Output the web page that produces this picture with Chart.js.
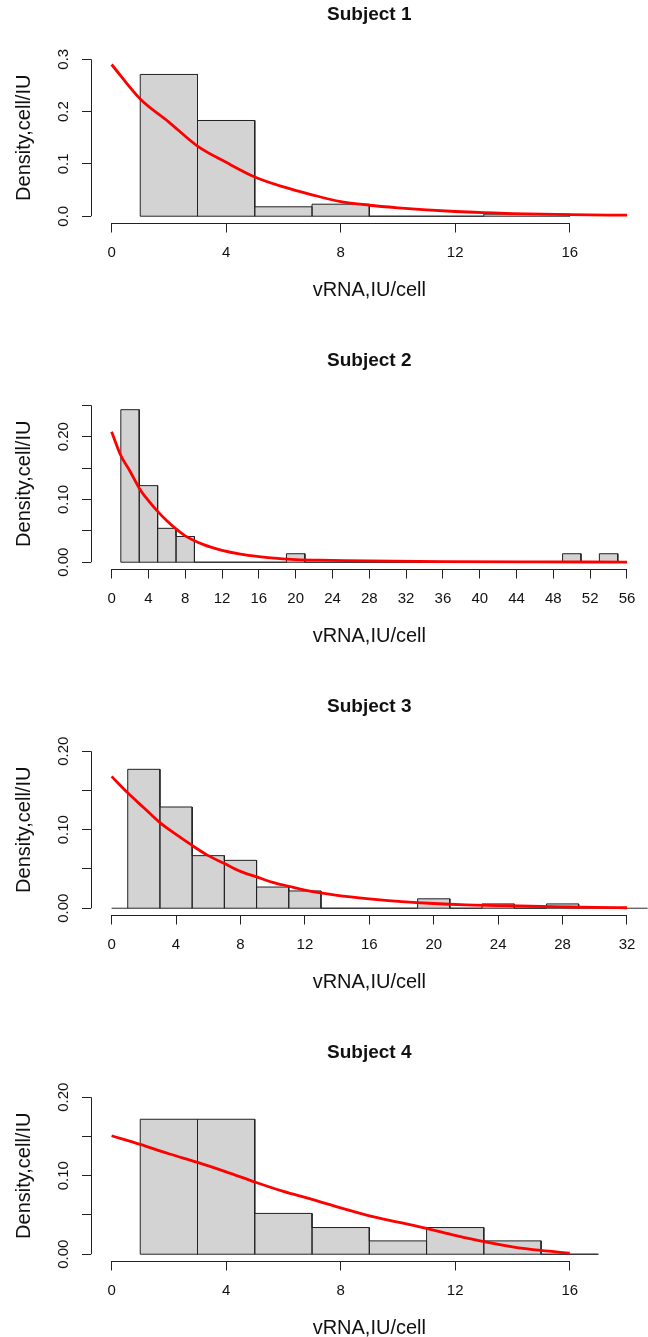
<!DOCTYPE html>
<html>
<head>
<meta charset="utf-8">
<title>vRNA per cell, four subjects</title>
<script src="https://cdn.jsdelivr.net/npm/chart.js@4.4.1/dist/chart.umd.min.js"></script>
<style>
  html, body { margin: 0; padding: 0; background: #fff; overflow: hidden; }
  #page { position: relative; width: 648px; height: 1337px; overflow: hidden; }
  .panel { position: absolute; left: 0; width: 648px; height: 346px; }
</style>
</head>
<body>
<div id="page">
  <div class="panel" style="top:0px"><canvas id="chart1" width="648" height="346"></canvas></div>
  <div class="panel" style="top:346px"><canvas id="chart2" width="648" height="346"></canvas></div>
  <div class="panel" style="top:692px"><canvas id="chart3" width="648" height="346"></canvas></div>
  <div class="panel" style="top:1038px"><canvas id="chart4" width="648" height="346"></canvas></div>
</div>
<script>
'use strict';

// SUBJECT 1
const s1Breaks = [1, 3, 5, 7, 9, 13, 16];
const s1Density = [0.271, 0.183, 0.018, 0.023, 0, 0.004];
const s1CurveX = [0, 1, 2, 3, 4, 5, 6, 7, 8, 9, 10, 11, 12, 13, 14, 16, 18];
const s1CurveY = [0.290, 0.224, 0.180, 0.134, 0.103, 0.075, 0.056, 0.041, 0.028, 0.021, 0.016, 0.012, 0.009, 0.007, 0.005, 0.003, 0.002];
const s1XTicks = [0, 4, 8, 12, 16];
const s1YTicks = [0, 0.1, 0.2, 0.3];
const s1YLabels = ['0.0', '0.1', '0.2', '0.3'];

// SUBJECT 2
const s2Breaks = [1, 3, 5, 7, 9, 11, 13, 15, 17, 19, 21, 23, 25, 27, 29, 31, 33, 35, 37, 39, 41, 43, 45, 47, 49, 51, 53, 55];
const s2Density = [0.243, 0.122, 0.054, 0.041, 0, 0, 0, 0, 0, 0.0135, 0, 0, 0, 0, 0, 0, 0, 0, 0, 0, 0, 0, 0, 0, 0.0135, 0, 0.0135];
const s2CurveX = [0, 1, 2, 3, 4, 5, 6, 7, 8, 10, 12, 14, 16, 18, 20, 24, 28, 36, 46, 56];
const s2CurveY = [0.208, 0.170, 0.145, 0.118, 0.098, 0.081, 0.066, 0.053, 0.042, 0.028, 0.019, 0.013, 0.009, 0.006, 0.004, 0.003, 0.002, 0.001, 0.0005, 0.0003];
const s2XTicks = [0, 4, 8, 12, 16, 20, 24, 28, 32, 36, 40, 44, 48, 52, 56];
const s2YTicks = [0, 0.05, 0.1, 0.15, 0.2, 0.25];
const s2YLabels = ['0.00', '', '0.10', '', '0.20', ''];

// SUBJECT 3
const s3Breaks = [1, 3, 5, 7, 9, 11, 13, 15, 17, 19, 21, 23, 25, 27, 29];
const s3Density = [0.177, 0.129, 0.067, 0.061, 0.027, 0.022, 0, 0, 0, 0.012, 0, 0.0055, 0, 0.0055];
const s3CurveX = [0, 1, 2, 3, 4, 5, 6, 7, 8, 9, 10, 11, 12, 14, 16, 18, 20, 22, 24, 26, 28, 30, 32];
const s3CurveY = [0.168, 0.147, 0.128, 0.109, 0.094, 0.080, 0.067, 0.057, 0.047, 0.040, 0.033, 0.028, 0.023, 0.0165, 0.012, 0.0085, 0.006, 0.0043, 0.0034, 0.0025, 0.0017, 0.001, 0.0006];
const s3ZeroLine = [0, 34];
const s3XTicks = [0, 4, 8, 12, 16, 20, 24, 28, 32];
const s3YTicks = [0, 0.05, 0.1, 0.15, 0.2];
const s3YLabels = ['0.00', '', '0.10', '', '0.20'];

// SUBJECT 4
const s4Breaks = [1, 3, 5, 7, 9, 11, 13, 15, 17];
const s4Density = [0.172, 0.172, 0.052, 0.034, 0.017, 0.034, 0.017, 0];
const s4CurveX = [0, 1, 2, 3, 4, 5, 6, 7, 8, 9, 10, 11, 12, 13, 14, 15, 16];
const s4CurveY = [0.151, 0.140, 0.128, 0.117, 0.105, 0.092, 0.080, 0.070, 0.059, 0.049, 0.041, 0.033, 0.024, 0.016, 0.0095, 0.0048, 0.0013];
const s4XTicks = [0, 4, 8, 12, 16];
const s4YTicks = [0, 0.05, 0.1, 0.15, 0.2];
const s4YLabels = ['0.00', '', '0.10', '', '0.20'];


const FONT = "'Liberation Sans', Arial, sans-serif";
Chart.defaults.font.family = FONT;
Chart.defaults.color = '#111';

// outline of the bins, x never goes back so the filler can fill it down to 0
function histPoints(breaks, density) {
    const pts = [];
    density.forEach((d, i) => {
        const l = breaks[i];
        const r = breaks[i + 1];
        pts.push({x: l, y: 0}, {x: l, y: d}, {x: r, y: d}, {x: r, y: 0});
    });
    return pts;
}

function zip(xs, ys) {
    return xs.map((x, i) => ({x: x, y: ys[i]}));
}

function widestLabel(labels) {
    const ctx = document.createElement('canvas').getContext('2d');
    ctx.font = '15px ' + FONT;
    return Math.max(...labels.map(t => ctx.measureText(t).width));
}

// R style axis lines: only from first to last tick
const rAxes = {
    id: 'rAxes',
    afterDraw(chart) {
        const {ctx, chartArea, scales} = chart;
        const xt = scales.x.ticks;
        const yt = scales.y.ticks;
        const xb = Math.round(chartArea.bottom) + 0.5;
        const yl = Math.round(chartArea.left) + 0.5;
        ctx.save();
        ctx.strokeStyle = '#222';
        ctx.lineWidth = 1;
        ctx.beginPath();
        ctx.moveTo(scales.x.getPixelForValue(xt[0].value), xb);
        ctx.lineTo(scales.x.getPixelForValue(xt[xt.length - 1].value), xb);
        ctx.moveTo(yl, scales.y.getPixelForValue(yt[0].value));
        ctx.lineTo(yl, scales.y.getPixelForValue(yt[yt.length - 1].value));
        ctx.stroke();
        ctx.restore();
    }
};

function makePanel(id, p) {
    const xMax = p.xMax;
    const yTop = p.yTicks[p.yTicks.length - 1];
    const yPad = 18 - widestLabel(p.yLabels) / 2;
    const baseRange = p.zeroLine || [p.breaks[0], p.breaks[p.breaks.length - 1]];

    const datasets = [{
        label: 'fit',
        data: zip(p.curveX, p.curveY),
        borderColor: '#ff0000',
        borderWidth: 2.8,
        pointRadius: 0,
        fill: false,
        cubicInterpolationMode: 'monotone',
        order: 1
    }, {
        label: 'base',
        data: baseRange.map(x => ({x: x, y: 0})),
        borderColor: '#2a2a2a',
        borderWidth: 1,
        pointRadius: 0,
        fill: false,
        order: 2
    }, {
        label: 'hist',
        data: histPoints(p.breaks, p.density),
        borderColor: '#222',
        borderWidth: 1,
        backgroundColor: '#d3d3d3',
        pointRadius: 0,
        tension: 0,
        fill: 'origin',
        order: 3
    }];

    return new Chart(document.getElementById(id), {
        type: 'line',
        data: {datasets: datasets},
        options: {
            responsive: false,
            animation: false,
            layout: {padding: {left: 0, right: 0.4, top: 0, bottom: 0}},
            plugins: {
                legend: {display: false},
                tooltip: {enabled: false},
                title: {
                    display: true,
                    text: p.title,
                    fullSize: false,
                    font: {size: 19, weight: 'bold'},
                    color: '#111',
                    padding: {top: 3.6, bottom: 26.6}
                }
            },
            scales: {
                x: {
                    type: 'linear',
                    min: -0.04 * xMax,
                    max: 1.04 * xMax,
                    afterBuildTicks: s => { s.ticks = p.xTicks.map(v => ({value: v})); },
                    afterFit: s => { s.height = 123.5; },
                    grid: {drawOnChartArea: false, drawTicks: true, tickLength: 10, color: '#222', lineWidth: 1},
                    border: {display: false},
                    ticks: {
                        autoSkip: false, minRotation: 0, maxRotation: 0, padding: 11.5,
                        font: {size: 15}, color: '#111',
                        callback: (v, i) => String(p.xTicks[i])
                    },
                    title: {display: true, text: 'vRNA,IU/cell', font: {size: 20}, color: '#111', padding: {top: 0, bottom: 44}}
                },
                y: {
                    type: 'linear',
                    min: -0.04 * yTop,
                    max: 1.04 * yTop,
                    afterBuildTicks: s => { s.ticks = p.yTicks.map(v => ({value: v})); },
                    afterFit: s => { s.width = 91; },
                    grid: {drawOnChartArea: false, drawTicks: true, tickLength: 9, color: '#222', lineWidth: 1},
                    border: {display: false},
                    ticks: {
                        autoSkip: false, minRotation: 90, maxRotation: 90, crossAlign: 'center', padding: yPad,
                        font: {size: 15}, color: '#111',
                        callback: (v, i) => p.yLabels[i]
                    },
                    title: {display: true, text: 'Density,cell/IU', font: {size: 20}, color: '#111', padding: {top: 12, bottom: 0}}
                }
            }
        },
        plugins: [rAxes]
    });
}

makePanel('chart1', {title: 'Subject 1', breaks: s1Breaks, density: s1Density, curveX: s1CurveX, curveY: s1CurveY,
    xTicks: s1XTicks, xMax: 18, yTicks: s1YTicks, yLabels: s1YLabels});
makePanel('chart2', {title: 'Subject 2', breaks: s2Breaks, density: s2Density, curveX: s2CurveX, curveY: s2CurveY,
    xTicks: s2XTicks, xMax: 56, yTicks: s2YTicks, yLabels: s2YLabels});
makePanel('chart3', {title: 'Subject 3', breaks: s3Breaks, density: s3Density, curveX: s3CurveX, curveY: s3CurveY,
    xTicks: s3XTicks, xMax: 32, yTicks: s3YTicks, yLabels: s3YLabels, zeroLine: s3ZeroLine});
makePanel('chart4', {title: 'Subject 4', breaks: s4Breaks, density: s4Density, curveX: s4CurveX, curveY: s4CurveY,
    xTicks: s4XTicks, xMax: 18, yTicks: s4YTicks, yLabels: s4YLabels});
</script>
</body>
</html>
